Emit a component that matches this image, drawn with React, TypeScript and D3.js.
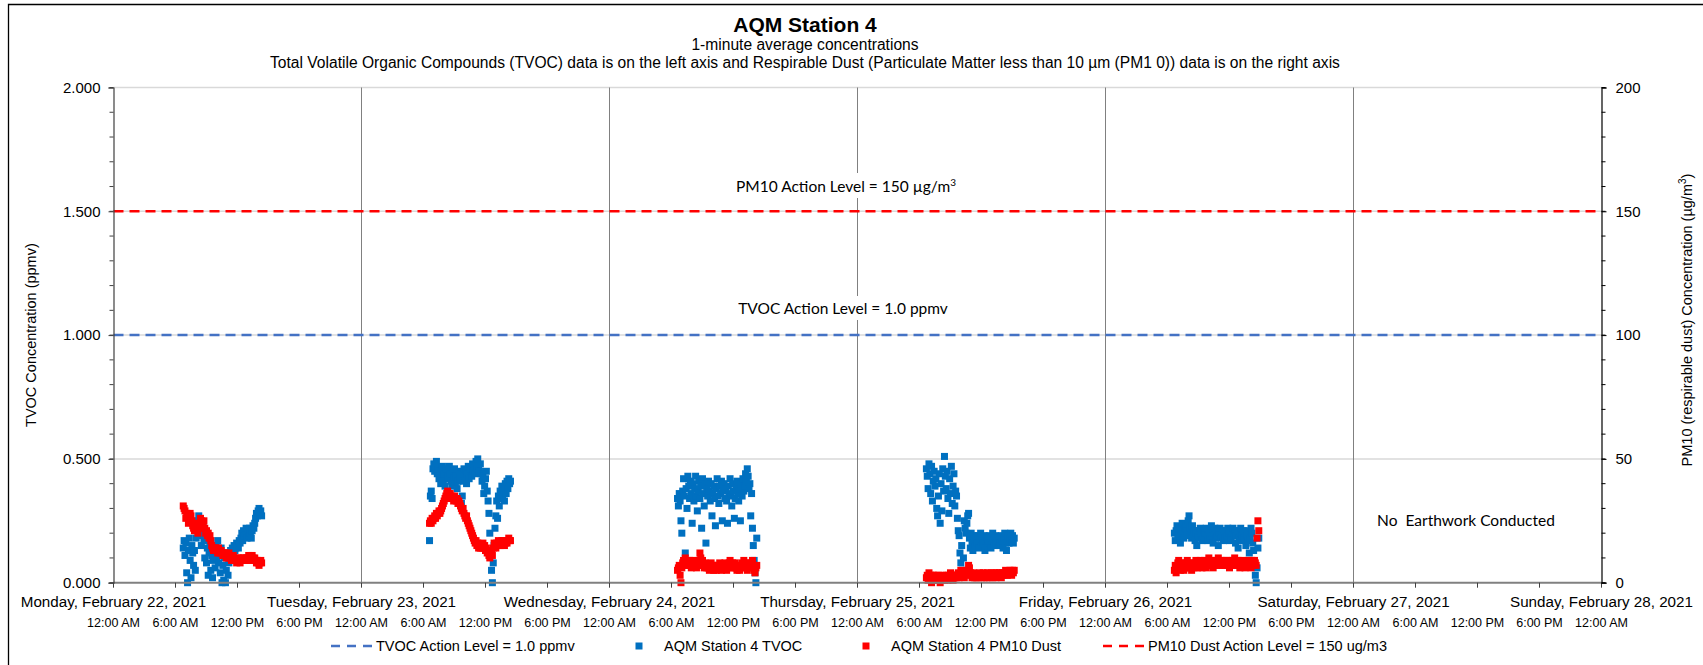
import React, { useEffect, useRef } from 'react';
import * as d3 from 'd3';

// ---- data (1-minute AQM readings, sampled every 5 minutes) ----
const STEP_MIN = 5;

const dayStarts = ['2021-02-22', '2021-02-23', '2021-02-24', '2021-02-25', '2021-02-26', '2021-02-27', '2021-02-28'];
const dayLabels = [
  'Monday, February 22, 2021',
  'Tuesday, February 23, 2021',
  'Wednesday, February 24, 2021',
  'Thursday, February 25, 2021',
  'Friday, February 26, 2021',
  'Saturday, February 27, 2021',
  'Sunday, February 28, 2021',
];
const hourLabels = ['12:00 AM', '6:00 AM', '12:00 PM', '6:00 PM'];

const leftTicks = [0, 0.5, 1.0, 1.5, 2.0];
const rightTicks = [0, 50, 100, 150, 200];

const TVOC_ACTION = 1.0; // ppmv
const PM10_ACTION = 150; // ug/m3

// start time of each working-day block
const blockStarts = ['2021-02-22 06:45', '2021-02-23 06:35', '2021-02-24 06:35', '2021-02-25 06:40', '2021-02-26 06:40'];

// TVOC (ppmv)
const tvocMon = [
  0.14, 0.17, 0.11, 0.16, 0.04, 0.00, 0.13, 0.18, 0.09, 0.02, 0.15, 0.12,
  0.07, 0.13, 0.05, 0.18, 0.21, 0.25, 0.27, 0.19, 0.23, 0.15, 0.20, 0.24,
  0.17, 0.10, 0.19, 0.08, 0.14, 0.03, 0.12, 0.16, 0.05, 0.11, 0.02, 0.09,
  0.13, 0.06, 0.15, 0.10, 0.17, 0.08, 0.12, 0.04, 0.14, 0.00, 0.07, 0.01,
  0.10, 0.00, 0.05, 0.12, 0.03, 0.08, 0.11, 0.13, 0.10, 0.14, 0.12, 0.15,
  0.13, 0.14, 0.16, 0.15, 0.14, 0.17, 0.16, 0.18, 0.20, 0.17, 0.21, 0.19,
  0.20, 0.22, 0.18, 0.21, 0.19, 0.22, 0.20, 0.18, 0.21, 0.23, 0.22, 0.24,
  0.26, 0.28, 0.27, 0.29, 0.30, 0.28, 0.29, 0.27,
];
const tvocTue = [
  0.17, 0.35, 0.37, 0.34, 0.46, 0.48, 0.45, 0.47, 0.49, 0.44, 0.46, 0.42,
  0.45, 0.40, 0.43, 0.47, 0.41, 0.44, 0.39, 0.46, 0.42, 0.45, 0.43, 0.47,
  0.44, 0.41, 0.39, 0.45, 0.42, 0.46, 0.40, 0.43, 0.38, 0.41, 0.45, 0.42,
  0.44, 0.32, 0.35, 0.41, 0.46, 0.43, 0.45, 0.40, 0.44, 0.47, 0.42, 0.45,
  0.46, 0.43, 0.48, 0.45, 0.47, 0.44, 0.49, 0.46, 0.50, 0.47, 0.45, 0.48,
  0.44, 0.41, 0.43, 0.36, 0.39, 0.42, 0.45, 0.37, 0.33, 0.28, 0.20, 0.12,
  0.05, 0.00, 0.08, 0.15, 0.22, 0.27, 0.33, 0.26, 0.35, 0.31, 0.37, 0.34,
  0.39, 0.35, 0.38, 0.33, 0.40, 0.36, 0.41, 0.38, 0.42, 0.40, 0.41,
];
const tvocWed = [
  0.34, 0.31, 0.36, 0.33, 0.25, 0.20, 0.37, 0.42, 0.35, 0.12, 0.38, 0.30,
  0.43, 0.39, 0.34, 0.41, 0.36, 0.24, 0.40, 0.33, 0.38, 0.43, 0.35, 0.29,
  0.37, 0.41, 0.34, 0.39, 0.22, 0.42, 0.36, 0.31, 0.40, 0.16, 0.38, 0.35,
  0.41, 0.37, 0.33, 0.40, 0.27, 0.36, 0.39, 0.34, 0.23, 0.38, 0.42, 0.35,
  0.32, 0.39, 0.36, 0.41, 0.25, 0.37, 0.40, 0.34, 0.38, 0.33, 0.24, 0.39,
  0.36, 0.42, 0.35, 0.31, 0.40, 0.37, 0.26, 0.34, 0.39, 0.41, 0.36, 0.33,
  0.38, 0.25, 0.40, 0.35, 0.42, 0.37, 0.39, 0.44, 0.41, 0.46, 0.43, 0.38,
  0.40, 0.27, 0.36, 0.22, 0.15, 0.09, 0.04, 0.00, 0.18,
];
const tvocThu = [
  0.46, 0.43, 0.38, 0.48, 0.44, 0.36, 0.47, 0.33, 0.41, 0.45, 0.39, 0.42,
  0.30, 0.27, 0.35, 0.44, 0.24, 0.40, 0.29, 0.46, 0.37, 0.51, 0.43, 0.38,
  0.45, 0.34, 0.28, 0.42, 0.36, 0.47, 0.32, 0.39, 0.44, 0.31, 0.37, 0.35,
  0.26, 0.21, 0.19, 0.12, 0.08, 0.15, 0.05, 0.10, 0.25, 0.22, 0.20, 0.24,
  0.27, 0.28, 0.18, 0.14, 0.20, 0.16, 0.13, 0.19, 0.17, 0.15, 0.18, 0.16,
  0.19, 0.14, 0.17, 0.20, 0.15, 0.18, 0.16, 0.19, 0.13, 0.17, 0.18, 0.15,
  0.17, 0.19, 0.16, 0.14, 0.18, 0.20, 0.17, 0.15, 0.19, 0.16, 0.18, 0.17,
  0.15, 0.18, 0.16, 0.19, 0.17, 0.14, 0.18, 0.20, 0.16, 0.13, 0.17, 0.19,
  0.16, 0.18, 0.20, 0.17, 0.19, 0.16, 0.18,
];
const tvocFri = [
  0.20, 0.17, 0.21, 0.23, 0.18, 0.22, 0.19, 0.16, 0.21, 0.24, 0.20, 0.18,
  0.22, 0.19, 0.23, 0.21, 0.25, 0.27, 0.22, 0.20, 0.18, 0.23, 0.19, 0.21,
  0.17, 0.20, 0.15, 0.19, 0.21, 0.18, 0.22, 0.20, 0.17, 0.19, 0.21, 0.18,
  0.20, 0.22, 0.19, 0.17, 0.21, 0.18, 0.20, 0.23, 0.19, 0.16, 0.20, 0.22,
  0.18, 0.21, 0.19, 0.15, 0.20, 0.22, 0.18, 0.21, 0.19, 0.17, 0.20, 0.18,
  0.21, 0.19, 0.22, 0.20, 0.17, 0.21, 0.18, 0.20, 0.22, 0.19, 0.21, 0.16,
  0.19, 0.21, 0.14, 0.18, 0.20, 0.22, 0.17, 0.19, 0.21, 0.18, 0.20, 0.15,
  0.19, 0.21, 0.17, 0.12, 0.18, 0.22, 0.20, 0.16, 0.13, 0.08, 0.03, 0.00,
  0.06, 0.14, 0.18,
];

// PM10 dust (ug/m3)
const pmMon = [
  31, 30, 29, 26, 28, 27, 24, 26, 28, 27, 25, 23,
  22, 21, 24, 23, 21, 20, 22, 24, 26, 25, 24, 23,
  25, 22, 20, 21, 19, 20, 18, 19, 17, 15, 14, 13,
  14, 13, 14, 13, 12, 14, 13, 12, 13, 12, 11, 12,
  11, 12, 10, 11, 10, 12, 11, 10, 9, 10, 11, 9,
  10, 9, 8, 9, 10, 9, 8, 9, 10, 9, 10, 9,
  9, 10, 9, 10, 11, 10, 9, 10, 11, 10, 9, 10,
  9, 8, 9, 8, 7, 8, 9, 8,
];
const pmTue = [
  24, 25, 24, 26, 25, 26, 27, 26, 28, 27, 28, 29,
  28, 29, 30, 31, 32, 33, 34, 35, 36, 37, 36, 35,
  36, 34, 35, 34, 33, 35, 34, 33, 34, 32, 33, 32,
  31, 30, 29, 30, 28, 27, 26, 27, 25, 24, 23, 22,
  21, 20, 19, 18, 17, 16, 17, 15, 16, 14, 15, 14,
  15, 14, 16, 14, 15, 13, 14, 12, 13, 11, 10, 12,
  13, 11, 14, 16, 15, 14, 16, 15, 17, 16, 15, 16,
  17, 16, 17, 15, 16, 17, 16, 17, 18, 17, 17,
];
const pmWed = [
  5, 6, 7, 3, 0, 6, 8, 9, 7, 10, 8, 9,
  7, 8, 9, 7, 6, 8, 7, 9, 8, 7, 6, 8,
  7, 9, 12, 10, 8, 9, 7, 6, 8, 7, 6, 7,
  6, 5, 7, 8, 6, 7, 5, 6, 7, 5, 6, 7,
  6, 8, 7, 5, 6, 7, 6, 8, 7, 5, 6, 7,
  8, 9, 7, 6, 8, 7, 6, 8, 6, 5, 7, 6,
  5, 7, 6, 8, 7, 9, 8, 6, 7, 5, 6, 8,
  7, 6, 8, 9, 7, 5, 4, 6, 7,
];
const pmThu = [
  2, 3, 1, 4, 2, 3, 0, 2, 3, 1, 2, 3,
  1, 2, 3, 2, 0, 2, 1, 3, 2, 1, 2, 3,
  2, 1, 3, 2, 4, 3, 2, 1, 3, 2, 3, 2,
  3, 4, 2, 3, 5, 3, 4, 3, 2, 3, 4, 5,
  4, 7, 6, 4, 3, 2, 3, 4, 2, 3, 2, 3,
  2, 3, 4, 3, 2, 3, 4, 2, 3, 3, 2, 4,
  3, 2, 3, 4, 3, 2, 3, 4, 3, 2, 4, 3,
  3, 4, 3, 2, 4, 3, 4, 3, 5, 4, 3, 4,
  4, 5, 4, 3, 5, 4, 5,
];
const pmFri = [
  5, 7, 4, 6, 8, 9, 7, 5, 8, 6, 7, 5,
  6, 8, 7, 9, 6, 7, 8, 6, 5, 7, 8, 6,
  7, 9, 8, 6, 7, 8, 9, 7, 6, 8, 7, 9,
  8, 6, 7, 9, 10, 8, 7, 9, 8, 6, 7, 8,
  9, 7, 8, 10, 8, 7, 9, 8, 7, 9, 8, 7,
  8, 9, 7, 8, 6, 9, 8, 7, 9, 8, 10, 7,
  8, 7, 9, 8, 6, 8, 7, 9, 8, 7, 6, 8,
  7, 8, 9, 7, 8, 6, 9, 8, 7, 9, 8, 7,
  18, 25, 21,
];

const W = 1703;
const H = 665;
const FONT = '"Liberation Sans", Arial, sans-serif';
const NOTE_FONT = 'Lato, "Open Sans", sans-serif';
const BLUE = '#0070C0';
const RED = '#FF0000';
const LINE_BLUE = '#4472C4';

const parseTime = d3.timeParse('%Y-%m-%d %H:%M');
const parseDay = d3.timeParse('%Y-%m-%d');

const toPoints = (starts: string[], blocks: number[][]) =>
  blocks.flatMap((vals, b) => {
    const t0 = parseTime(starts[b]) as Date;
    return vals.map((v, i) => ({ t: d3.timeMinute.offset(t0, i * STEP_MIN), v }));
  });

const App: React.FC = () => {
  const svgRef = useRef<SVGSVGElement>(null);

  useEffect(() => {
    if (!svgRef.current) return;
    const svg = d3.select(svgRef.current);
    svg.selectAll('*').remove();

    const plot = { left: 113.5, right: 1601.5, top: 87.5, bottom: 582.7 };
    const days = dayStarts.map(d => parseDay(d) as Date);

    const x = d3.scaleTime().domain([days[0], days[6]]).range([plot.left, plot.right]);
    const yL = d3.scaleLinear().domain([0, 2]).range([plot.bottom, plot.top]);
    const yR = d3.scaleLinear().domain([0, 200]).range([plot.bottom, plot.top]);

    svg.append('rect').attr('width', W).attr('height', H).attr('fill', '#fff');

    // chart frame (top and left edges visible)
    svg.append('path').attr('d', `M8.5,${H} V4.5 H${W}`).attr('fill', 'none').attr('stroke', '#000').attr('stroke-width', 1.3);

    // titles
    const cx = 805;
    svg.append('text').attr('x', cx).attr('y', 32).attr('text-anchor', 'middle')
      .attr('font-family', FONT).attr('font-weight', 'bold').attr('font-size', 21).text('AQM Station 4');
    svg.append('text').attr('x', cx).attr('y', 50).attr('text-anchor', 'middle')
      .attr('font-family', FONT).attr('font-size', 15.6).text('1-minute average concentrations');
    svg.append('text').attr('x', cx).attr('y', 68).attr('text-anchor', 'middle')
      .attr('font-family', FONT).attr('font-size', 15.6)
      .text('Total Volatile Organic Compounds (TVOC) data is on the left axis and Respirable Dust (Particulate Matter less than 10 µm (PM1 0)) data is on the right axis');

    const g = svg.append('g');

    // horizontal gridlines
    g.selectAll('line.hgrid').data(leftTicks.filter(d => d > 0)).enter().append('line')
      .attr('x1', plot.left).attr('x2', plot.right)
      .attr('y1', d => yL(d)).attr('y2', d => yL(d))
      .attr('stroke', '#d9d9d9').attr('stroke-width', 1.5);

    // vertical day gridlines
    g.selectAll('line.vgrid').data(days.slice(1, 6)).enter().append('line')
      .attr('x1', d => x(d)).attr('x2', d => x(d))
      .attr('y1', plot.top).attr('y2', plot.bottom)
      .attr('stroke', '#808080').attr('stroke-width', 1);

    // TVOC action level (left axis)
    g.append('line').attr('x1', plot.left).attr('x2', plot.right)
      .attr('y1', yL(TVOC_ACTION)).attr('y2', yL(TVOC_ACTION))
      .attr('stroke', LINE_BLUE).attr('stroke-width', 2.5).attr('stroke-dasharray', '10,6');

    // scatter series
    const S = 7;
    const tvoc = toPoints(blockStarts, [tvocMon, tvocTue, tvocWed, tvocThu, tvocFri]);
    const pm = toPoints(blockStarts, [pmMon, pmTue, pmWed, pmThu, pmFri]);
    g.append('g').selectAll('rect').data(tvoc).enter().append('rect')
      .attr('x', d => x(d.t) - S / 2).attr('y', d => yL(d.v) - S / 2)
      .attr('width', S).attr('height', S).attr('fill', BLUE);
    g.append('g').selectAll('rect').data(pm).enter().append('rect')
      .attr('x', d => x(d.t) - S / 2).attr('y', d => yR(d.v) - S / 2)
      .attr('width', S).attr('height', S).attr('fill', RED);

    // PM10 action level (right axis)
    g.append('line').attr('x1', plot.left).attr('x2', plot.right)
      .attr('y1', yR(PM10_ACTION)).attr('y2', yR(PM10_ACTION))
      .attr('stroke', RED).attr('stroke-width', 2.5).attr('stroke-dasharray', '10,6');

    // x axis
    const xTicks = d3.timeHour.every(6)!.range(days[0], d3.timeMinute.offset(days[6], 1));
    g.append('line').attr('x1', plot.left).attr('x2', plot.right)
      .attr('y1', plot.bottom).attr('y2', plot.bottom).attr('stroke', '#808080').attr('stroke-width', 2);
    g.selectAll('line.xt').data(xTicks).enter().append('line')
      .attr('x1', d => x(d)).attr('x2', d => x(d))
      .attr('y1', plot.bottom).attr('y2', plot.bottom + 5)
      .attr('stroke', '#404040').attr('stroke-width', 1);
    g.selectAll('text.xh').data(xTicks).enter().append('text')
      .attr('x', d => x(d)).attr('y', 627).attr('text-anchor', 'middle')
      .attr('font-family', FONT).attr('font-size', 12.5)
      .text((d, i) => hourLabels[i % 4]);
    g.selectAll('text.xd').data(days).enter().append('text')
      .attr('x', d => x(d)).attr('y', 607).attr('text-anchor', 'middle')
      .attr('font-family', FONT).attr('font-size', 15.2)
      .text((d, i) => dayLabels[i]);

    // left axis
    const leftAxis = d3.axisLeft(yL).tickValues(leftTicks).tickSize(5).tickPadding(8).tickFormat(d3.format('.3f'));
    const la = g.append('g').attr('transform', `translate(${plot.left},0)`).call(leftAxis);
    la.select('.domain').attr('stroke', '#404040').attr('stroke-width', 1.2);
    la.selectAll('.tick line').attr('stroke', '#404040');
    la.selectAll('text').attr('font-family', FONT).attr('font-size', 15).attr('fill', '#000');
    la.append('g').selectAll('line').data(d3.range(0, 2.0001, 0.1)).enter().append('line')
      .attr('x1', -4).attr('x2', 0).attr('y1', d => yL(d)).attr('y2', d => yL(d)).attr('stroke', '#404040');

    // right axis
    const rightAxis = d3.axisRight(yR).tickValues(rightTicks).tickSize(5).tickPadding(9);
    const ra = g.append('g').attr('transform', `translate(${plot.right},0)`).call(rightAxis);
    ra.select('.domain').attr('stroke', '#000').attr('stroke-width', 1.2);
    ra.selectAll('.tick line').attr('stroke', '#000');
    ra.selectAll('text').attr('font-family', FONT).attr('font-size', 15).attr('fill', '#000');
    ra.append('g').selectAll('line').data(d3.range(0, 201, 10)).enter().append('line')
      .attr('x1', 0).attr('x2', 4).attr('y1', d => yR(d)).attr('y2', d => yR(d)).attr('stroke', '#000');

    // axis titles
    svg.append('text').attr('transform', `translate(36,${(plot.top + plot.bottom) / 2}) rotate(-90)`)
      .attr('text-anchor', 'middle').attr('font-family', FONT).attr('font-size', 14.5)
      .text('TVOC Concentration (ppmv)');
    const rt = svg.append('text').attr('transform', `translate(1692,320) rotate(-90)`)
      .attr('text-anchor', 'middle').attr('font-family', FONT).attr('font-size', 14.5);
    rt.append('tspan').text('PM10 (respirable dust) Concentration (µg/m');
    rt.append('tspan').attr('font-size', 10).attr('dy', -6).text('3');
    rt.append('tspan').attr('dy', 6).text(')');

    // annotations with white boxes
    const note = (tx: number, ty: number, parts: { s: string; sup?: boolean }[]) => {
      const t = svg.append('text').attr('x', tx).attr('y', ty).attr('text-anchor', 'middle')
        .attr('font-family', NOTE_FONT).attr('font-size', 15.5).style('white-space', 'pre');
      parts.forEach(p => {
        if (p.sup) t.append('tspan').attr('font-size', 10).attr('dy', -6).text(p.s);
        else t.append('tspan').text(p.s);
      });
      const bb = (t.node() as SVGTextElement).getBBox();
      svg.insert('rect', () => t.node() as any)
        .attr('x', bb.x - 4).attr('y', bb.y - 3).attr('width', bb.width + 8).attr('height', bb.height + 6)
        .attr('fill', '#fff');
    };
    note(846, 192, [{ s: 'PM10 Action Level = 150 µg/m' }, { s: '3', sup: true }]);
    note(843, 314, [{ s: 'TVOC Action Level = 1.0 ppmv' }]);
    note(1466, 526, [{ s: 'No  Earthwork Conducted' }]);

    // legend
    const ly = 646;
    const lg = svg.append('g').attr('font-family', FONT).attr('font-size', 14.5);
    lg.append('line').attr('x1', 331).attr('x2', 372).attr('y1', ly).attr('y2', ly)
      .attr('stroke', LINE_BLUE).attr('stroke-width', 2.5).attr('stroke-dasharray', '9,7');
    lg.append('text').attr('x', 376).attr('y', ly + 5).text('TVOC Action Level = 1.0 ppmv');
    lg.append('rect').attr('x', 635.5).attr('y', ly - 3.5).attr('width', S).attr('height', S).attr('fill', BLUE);
    lg.append('text').attr('x', 664).attr('y', ly + 5).text('AQM Station 4 TVOC');
    lg.append('rect').attr('x', 862.5).attr('y', ly - 3.5).attr('width', S).attr('height', S).attr('fill', RED);
    lg.append('text').attr('x', 891).attr('y', ly + 5).text('AQM Station 4 PM10 Dust');
    lg.append('line').attr('x1', 1103).attr('x2', 1144).attr('y1', ly).attr('y2', ly)
      .attr('stroke', RED).attr('stroke-width', 2.5).attr('stroke-dasharray', '9,7');
    lg.append('text').attr('x', 1148).attr('y', ly + 5).text('PM10 Dust Action Level = 150 ug/m3');
  }, []);

  return (
    <svg
      ref={svgRef}
      width={W}
      height={H}
      style={{ position: 'absolute', left: 0, top: 0, display: 'block' }}
    />
  );
};

export default App;
